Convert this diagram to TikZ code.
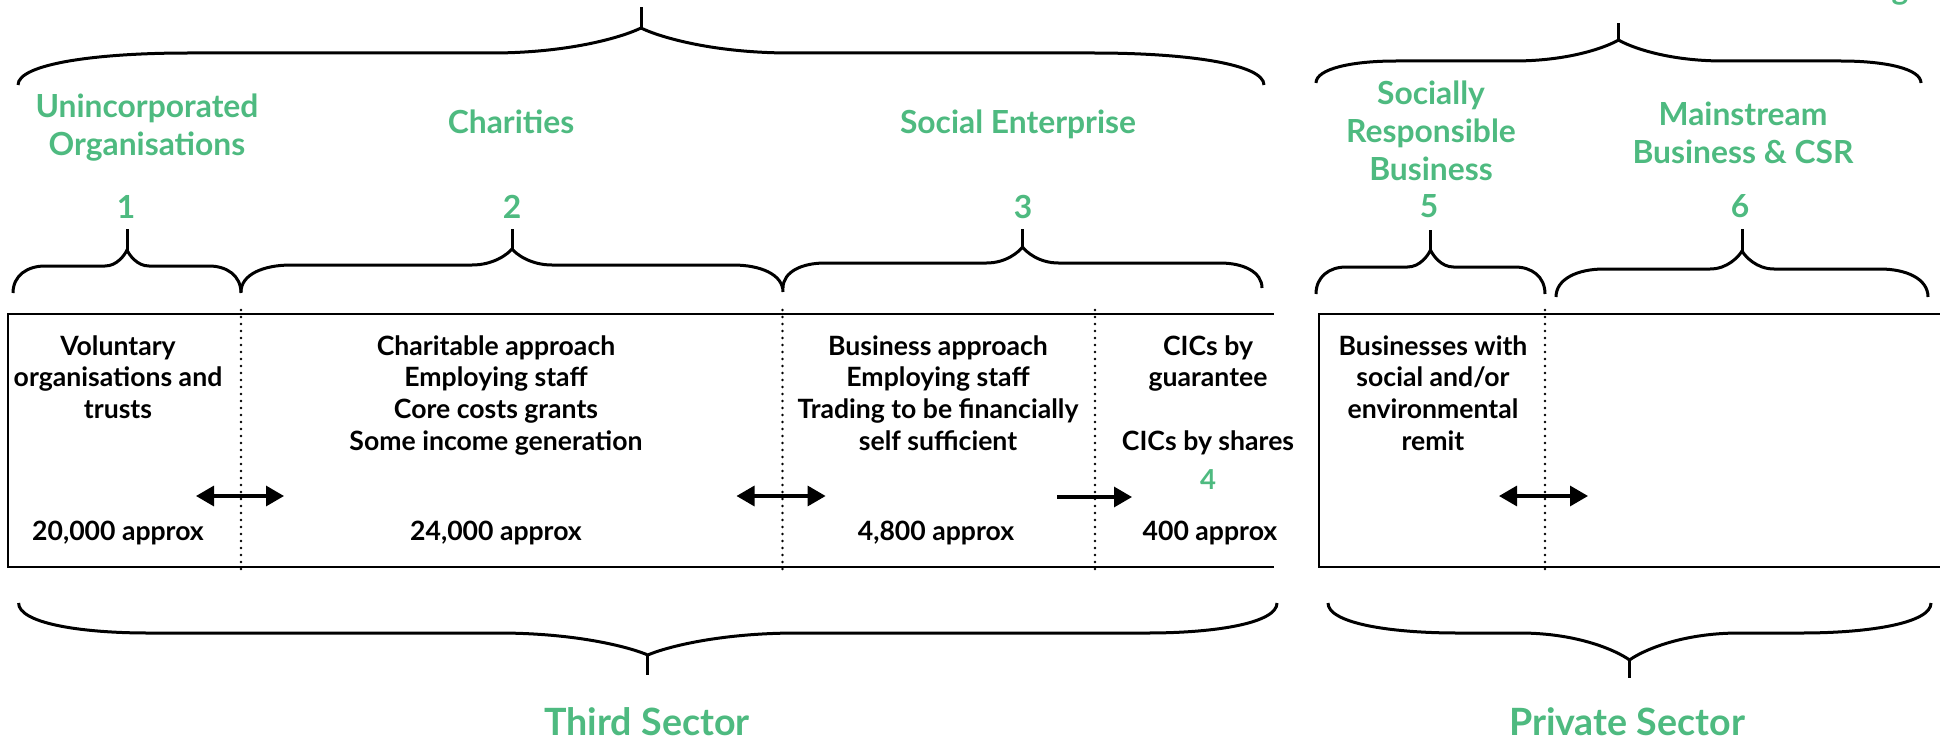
\documentclass[tikz,border=0pt]{standalone}
\usepackage{fontspec}
\setmainfont{Lato}
\usetikzlibrary{arrows.meta}
\definecolor{sgreen}{RGB}{78,186,128}
\tikzset{
  blk/.style={font=\bfseries\fontsize{26.6}{31.7}\selectfont, align=center, inner sep=0pt, anchor=base, text=black},
  grn/.style={font=\bfseries\fontsize{31.8}{38}\selectfont, align=center, inner sep=0pt, anchor=base, text=sgreen},
  grnsmall/.style={font=\bfseries\fontsize{27.5}{32}\selectfont, inner sep=0pt, anchor=base, text=sgreen},
  bigsec/.style={font=\bfseries\fontsize{37.6}{44}\selectfont, inner sep=0pt, anchor=base, text=sgreen},
  brc/.style={line width=3pt},
  boxline/.style={line width=2.8pt},
  dotl/.style={line width=2.7pt, dash pattern=on 0pt off 7pt, line cap=round},
  onearr/.style={line width=3.2pt, -{Triangle[length=18pt,width=20pt]}},
  twoarr/.style={line width=3.2pt, {Triangle[length=18pt,width=20pt]}-{Triangle[length=18pt,width=20pt]}},
}
% #1 x1, #2 x2, #3 yEnd, #4 yBar, #5 yCusp, #6 yTip, #7 a, #8 b
\newcommand\mybrace[8]{%
  \pgfmathsetmacro\bxm{(#1+#2)/2}%
  \draw[brc] (#1,#3) .. controls (#1,{#4+0.35*(#3-#4)}) and ({#1+0.45*#7},#4) .. ({#1+#7},#4)
    -- ({\bxm-#8},#4) .. controls ({\bxm-0.45*#8},#4) and ({\bxm-0.1*#8},{#5+0.3*(#4-#5)}) .. (\bxm,#5)
    .. controls ({\bxm+0.1*#8},{#5+0.3*(#4-#5)}) and ({\bxm+0.45*#8},#4) .. ({\bxm+#8},#4)
    -- ({#2-#7},#4) .. controls ({#2-0.45*#7},#4) and (#2,{#4+0.35*(#3-#4)}) .. (#2,#3);
  \draw[brc] (\bxm,#5) -- (\bxm,#6);
}
\begin{document}
\begin{tikzpicture}[x=1pt,y=-1pt]
\useasboundingbox (0,0) rectangle (1940,741);

% braces
\mybrace{18}{1264}{85}{53}{28}{7}{170}{150}
\mybrace{1316}{1921}{83}{61}{40}{23}{80}{105}
\mybrace{13}{241}{293}{266}{250}{229}{32}{22}
\mybrace{241}{783}{292}{265}{249}{229}{50}{40}
\mybrace{783}{1262}{288}{263}{247}{229}{42}{36}
\mybrace{1316}{1545}{294}{267}{250}{230}{30}{23}
\mybrace{1556}{1928}{297}{269}{251}{229}{48}{32}
\mybrace{18.6}{1277}{603}{633}{655}{675}{130}{150}
\mybrace{1328}{1931}{603}{633}{660}{678}{130}{110}

% boxes
\coordinate (lbtr) at (1274,314);
\coordinate (lbtl) at (8,314);
\coordinate (lbbl) at (8,567);
\coordinate (lbbr) at (1274,567);
\draw[boxline] (lbtr) -- (lbtl) -- (lbbl) -- (lbbr);
\coordinate (rbtr) at (1950,314);
\coordinate (rbtl) at (1319,314);
\coordinate (rbbl) at (1319,567);
\coordinate (rbbr) at (1950,567);
\draw[boxline] (rbtr) -- (rbtl) -- (rbbl) -- (rbbr);

% dotted dividers
\foreach \dx/\nm in {241/d1, 782.5/d2, 1095/d3, 1545/d4}{
  \coordinate (\nm t) at (\dx,310);
  \coordinate (\nm b) at (\dx,571);
  \draw[dotl] (\nm t) -- (\nm b);
}

% arrows
\coordinate (a1l) at (196,496); \coordinate (a1r) at (284,496);
\coordinate (a2l) at (736.5,496); \coordinate (a2r) at (825.6,496);
\coordinate (a3l) at (1057,497); \coordinate (a3r) at (1132,497);
\coordinate (a4l) at (1499,496); \coordinate (a4r) at (1588,496);
\draw[twoarr] (a1l) -- (a1r);
\draw[twoarr] (a2l) -- (a2r);
\draw[onearr] (a3l) -- (a3r);
\draw[twoarr] (a4l) -- (a4r);

% green headings (base = baseline of last line)
\node[grn] (unc) at (147,155) {Unincorporated\\Organisations};
\node[grn] (cha) at (511,134) {Charities};
\node[grn] (soe) at (1018,133) {Social Enterprise};
\node[grn] (srb) at (1431,180) {Socially\\Responsible\\Business};
\node[grn] (mbc) at (1743,163) {Mainstream\\Business \& CSR};
\node[grn] (n1) at (126,218) {1};
\node[grn] (n2) at (512,218) {2};
\node[grn] (n3) at (1023,218) {3};
\node[grn] (n5) at (1429,217) {5};
\node[grn] (n6) at (1740,217) {6};
\node[grnsmall] (n4) at (1208,489) {4};
\node[grn, anchor=south] (gfrag) at (1900,5) {g};

% black texts (base = baseline of last line)
\node[blk] (vol) at (118,418.4) {Voluntary\\organisations and\\trusts};
\node[blk] (chap) at (496,450.1) {Charitable approach\\Employing staff\\Core costs grants\\Some income generation};
\node[blk] (busap) at (938,450.1) {Business approach\\Employing staff\\Trading to be financially\\self sufficient};
\node[blk] (cicg) at (1208,386.7) {CICs by\\guarantee};
\node[blk] (cics) at (1208,450.1) {CICs by shares};
\node[blk] (bws) at (1433,450.1) {Businesses with\\social and/or\\environmental\\remit};
\node[blk] (c1) at (118,540) {20,000 approx};
\node[blk] (c2) at (496,540) {24,000 approx};
\node[blk] (c3) at (936,540) {4,800 approx};
\node[blk] (c4) at (1210,540) {400 approx};

% sector labels
\node[bigsec] (third) at (647,735) {Third Sector};
\node[bigsec] (priv) at (1627,735) {Private Sector};
\end{tikzpicture}
\end{document}
